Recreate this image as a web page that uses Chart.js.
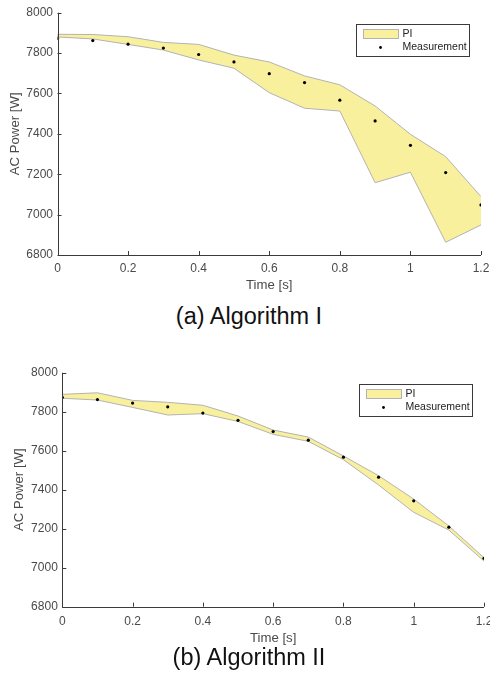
<!DOCTYPE html>
<html>
<head>
<meta charset="utf-8">
<script src="https://cdn.jsdelivr.net/npm/chart.js@4.4.1/dist/chart.umd.min.js"></script>
<style>
  html, body { margin: 0; padding: 0; background: #fff; overflow: hidden; }
  body { width: 490px; height: 686px; position: relative; font-family: "Liberation Sans", Arial, sans-serif; }
  canvas { position: absolute; left: 0; }
  #plotA { top: 0; }
  #plotB { top: 300px; }
  .caption { position: absolute; left: 0; width: 498px; text-align: center; font-size: 23.5px; line-height: 24px; color: #111; }
</style>
</head>
<body>
<canvas id="plotA" width="500" height="300"></canvas>
<div class="caption" style="top:304px">(a) Algorithm I</div>
<canvas id="plotB" width="500" height="346"></canvas>
<div class="caption" style="top:645px">(b) Algorithm II</div>
<script>
// ── datos ─────────────────────────────────────────────────────────────────
const TIME = [0, 0.1, 0.2, 0.3, 0.4, 0.5, 0.6, 0.7, 0.8, 0.9, 1.0, 1.1, 1.2];
const MEASUREMENT = [7873, 7862, 7844, 7825, 7793, 7756, 7698, 7654, 7567, 7464, 7343, 7208, 7048];
const PI_A_UPPER = [7893, 7892, 7881, 7853, 7843, 7790, 7756, 7687, 7643, 7538, 7398, 7287, 7089];
const PI_A_LOWER = [7880, 7870, 7843, 7815, 7766, 7725, 7604, 7527, 7513, 7158, 7210, 6863, 6949];
const PI_B_UPPER = [7889, 7897, 7858, 7848, 7833, 7778, 7706, 7670, 7573, 7472, 7352, 7214, 7051];
const PI_B_LOWER = [7869, 7860, 7822, 7783, 7790, 7750, 7684, 7648, 7554, 7424, 7284, 7193, 7034];
const X_TICKS = [0, 0.2, 0.4, 0.6, 0.8, 1.0, 1.2];
const Y_TICKS = [6800, 7000, 7200, 7400, 7600, 7800, 8000];

const BAND_FILL = "#f8f09d";
const BAND_EDGE = "#b3b3b3";
const AXIS_COLOR = "#3a3a3a";
const TEXT_COLOR = "#4a4a4a";

Chart.defaults.font.family = '"Liberation Sans", Arial, sans-serif';
Chart.defaults.color = TEXT_COLOR;

const pts = (ys) => TIME.map((t, i) => ({ x: t, y: ys[i] }));
const lastIdx = TIME.length - 1;

// ticks hacia adentro + ejes izquierdo/inferior (estilo MATLAB, sin caja)
const inwardTicks = {
  id: "inwardTicks",
  afterDatasetsDraw(chart) {
    const { ctx, chartArea: a, scales: { x, y } } = chart;
    ctx.save();
    ctx.strokeStyle = AXIS_COLOR;
    ctx.lineWidth = 1;
    ctx.beginPath();
    X_TICKS.forEach((v) => {
      const px = Math.round(x.getPixelForValue(v)) + 0.5;
      ctx.moveTo(px, a.bottom);
      ctx.lineTo(px, a.bottom - 4);
    });
    Y_TICKS.forEach((v) => {
      const py = Math.round(y.getPixelForValue(v)) + 0.5;
      ctx.moveTo(a.left, py);
      ctx.lineTo(a.left + 4, py);
    });
    const l = Math.round(a.left) + 0.5, b = Math.round(a.bottom) + 0.5;
    ctx.moveTo(l, a.top);
    ctx.lineTo(l, b);
    ctx.lineTo(a.right, b);
    ctx.stroke();
    ctx.restore();
  },
};

// leyenda dentro del área (arriba a la derecha)
const piLegend = {
  id: "piLegend",
  afterDraw(chart) {
    const { ctx, chartArea: a } = chart;
    const w = 113, h = 32;
    const left = Math.round(a.right - 12 - w) + 0.5, top = Math.round(a.top + 11) + 0.5;
    const labels = chart.data.datasets.filter((d) => d.legend).map((d) => d.label);
    ctx.save();
    ctx.fillStyle = "#fff";
    ctx.fillRect(left, top, w, h);
    ctx.strokeStyle = AXIS_COLOR;
    ctx.lineWidth = 1;
    ctx.strokeRect(left, top, w, h);
    ctx.fillStyle = BAND_FILL;
    ctx.fillRect(left + 7, top + 5, 35, 9);
    ctx.strokeStyle = BAND_EDGE;
    ctx.strokeRect(left + 7, top + 5, 35, 9);
    ctx.fillStyle = "#000";
    ctx.beginPath();
    ctx.arc(left + 24, top + 23, 1.4, 0, Math.PI * 2);
    ctx.fill();
    ctx.fillStyle = "#222";
    ctx.font = '10.5px "Liberation Sans", Arial, sans-serif';
    ctx.textBaseline = "middle";
    ctx.fillText(labels[0], left + 46, top + 9.5);
    ctx.fillText(labels[1], left + 46, top + 23);
    ctx.restore();
  },
};

function makePlot(canvasId, upper, lower, lay) {
  const edge = { borderColor: BAND_EDGE, borderWidth: 1, pointRadius: 0, fill: false, order: 2 };
  return new Chart(document.getElementById(canvasId), {
    type: "line",
    data: {
      datasets: [
        { label: "lower", data: pts(lower), ...edge },
        { label: "PI", legend: true, data: pts(upper), ...edge, backgroundColor: BAND_FILL, fill: "-1" },
        { label: "start", data: [{ x: TIME[0], y: lower[0] }, { x: TIME[0], y: upper[0] }], ...edge },
        { label: "end", data: [{ x: TIME[lastIdx], y: lower[lastIdx] }, { x: TIME[lastIdx], y: upper[lastIdx] }], ...edge },
        {
          label: "Measurement", legend: true, type: "scatter", data: pts(MEASUREMENT), order: 1,
          pointRadius: 1.6, pointBackgroundColor: "#000", pointBorderWidth: 0, showLine: false,
        },
      ],
    },
    options: {
      responsive: false,
      animation: false,
      events: [],
      layout: { padding: lay.padding },
      plugins: { legend: { display: false }, tooltip: { enabled: false } },
      scales: {
        x: {
          type: "linear", min: 0, max: 1.2,
          afterBuildTicks: (s) => { s.ticks = X_TICKS.map((v) => ({ value: v })); },
          afterFit: (s) => { s.height = lay.xHeight; },
          grid: { display: false, drawTicks: false },
          border: { display: false },
          ticks: { font: { size: 12 }, padding: lay.xTickPad, maxRotation: 0, callback: (v) => String(+v.toFixed(1)) },
          title: { display: true, text: "Time [s]", font: { size: 13.2 }, padding: { top: 0, bottom: lay.xTitlePad } },
        },
        y: {
          min: 6800, max: 8000,
          afterBuildTicks: (s) => { s.ticks = Y_TICKS.map((v) => ({ value: v })); },
          afterFit: (s) => { s.width = 57.5; },
          grid: { display: false, drawTicks: false },
          border: { display: false },
          ticks: { font: { size: 12 }, padding: 4.5, callback: (v) => String(v) },
          title: { display: true, text: "AC Power [W]", font: { size: 13.2 }, padding: { top: 7, bottom: 0 } },
        },
      },
    },
    plugins: [inwardTicks, piLegend],
  });
}

makePlot("plotA", PI_A_UPPER, PI_A_LOWER, {
  padding: { left: 0, top: 12.7, right: 19, bottom: 0 }, xHeight: 45, xTickPad: 6, xTitlePad: 7,
});
makePlot("plotB", PI_B_UPPER, PI_B_LOWER, {
  padding: { left: 4.8, top: 72.7, right: 16, bottom: 0 }, xHeight: 39.3, xTickPad: 7.5, xTitlePad: 0,
});
</script>
</body>
</html>
